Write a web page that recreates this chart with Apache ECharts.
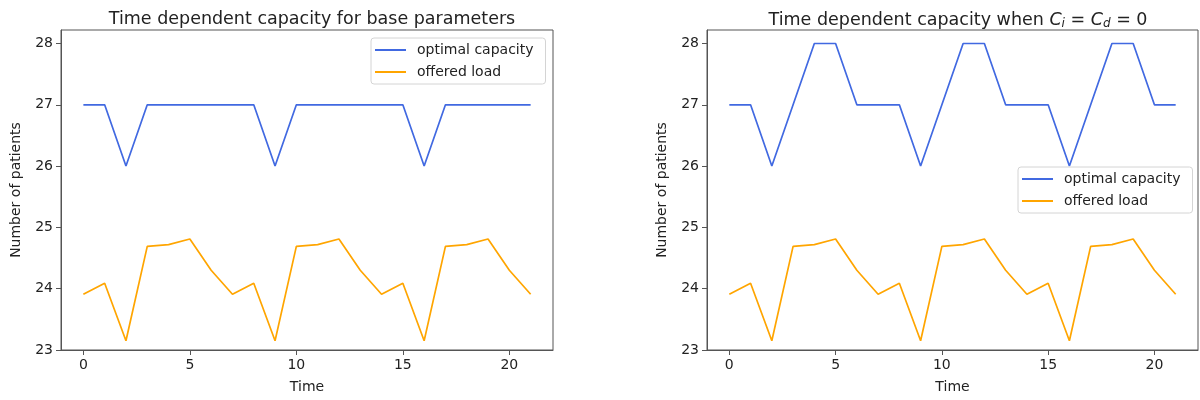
<!DOCTYPE html>
<html>
<head>
<meta charset="utf-8">
<script src="https://cdn.jsdelivr.net/npm/echarts@6/dist/echarts.min.js"></script>
<style>
  html, body { margin: 0; padding: 0; background: #fff; }
  #main { width: 1200px; height: 400px; }
</style>
</head>
<body>
<div id="main"></div>
<script>
  // basic data
  var time = [0, 1, 2, 3, 4, 5, 6, 7, 8, 9, 10, 11, 12, 13, 14, 15, 16, 17, 18, 19, 20, 21];
  var capacityBase = [27, 27, 26, 27, 27, 27, 27, 27, 27, 26, 27, 27, 27, 27, 27, 27, 26, 27, 27, 27, 27, 27];
  var capacityZero = [27, 27, 26, 27, 28, 28, 27, 27, 27, 26, 27, 28, 28, 27, 27, 27, 26, 27, 28, 28, 27, 27];
  var offeredLoad = [23.91, 24.09, 23.15, 24.69, 24.72, 24.81, 24.30, 23.91, 24.09, 23.15, 24.69,
                     24.72, 24.81, 24.30, 23.91, 24.09, 23.15, 24.69, 24.72, 24.81, 24.30, 23.91];
  var xTicks = [0, 5, 10, 15, 20];
  var yTicks = [23, 24, 25, 26, 27, 28];

  var FONT = 'DejaVu Sans';
  var TEXT = '#222';
  var SPINE = '#555';

  function pairs(vals) {
    return time.map(function (t, i) { return [t, vals[i]]; });
  }

  function xAxis(idx) {
    return {
      type: 'value', gridIndex: idx, min: -1.05, max: 22.05,
      name: 'Time', nameLocation: 'middle', nameGap: 30,
      nameTextStyle: { fontFamily: FONT, fontSize: 14, color: TEXT },
      axisLine: { show: true, onZero: false, lineStyle: { color: SPINE, width: 1 } },
      axisTick: { show: true, length: 5, customValues: xTicks, lineStyle: { color: SPINE } },
      axisLabel: { customValues: xTicks, fontFamily: FONT, fontSize: 14, color: TEXT, margin: 8 },
      splitLine: { show: false }
    };
  }

  function yAxis(idx) {
    return {
      type: 'value', gridIndex: idx, min: 23, max: 28.22,
      name: 'Number of patients', nameLocation: 'middle', nameGap: 38,
      nameTextStyle: { fontFamily: FONT, fontSize: 14, color: TEXT },
      axisLine: { show: true, onZero: false, lineStyle: { color: SPINE, width: 1 } },
      axisTick: { show: true, length: 5, customValues: yTicks, lineStyle: { color: SPINE } },
      axisLabel: { customValues: yTicks, fontFamily: FONT, fontSize: 14, color: TEXT, margin: 8 },
      splitLine: { show: false }
    };
  }

  function line(name, idx, vals, color) {
    return {
      name: name, type: 'line', xAxisIndex: idx, yAxisIndex: idx,
      data: pairs(vals), showSymbol: false, symbol: 'none', animation: false,
      itemStyle: { color: color },
      lineStyle: { color: color, width: 1.7 }
    };
  }

  function legend(left, top) {
    return {
      left: left, top: top, orient: 'vertical', selectedMode: false,
      data: ['optimal capacity', 'offered load'],
      icon: 'rect', itemWidth: 31, itemHeight: 2, itemGap: 8,
      padding: [5, 12, 5, 4],
      backgroundColor: 'rgba(255,255,255,0.85)',
      borderColor: '#d4d4d4', borderWidth: 1, borderRadius: 3,
      textStyle: { fontFamily: FONT, fontSize: 14, color: TEXT, padding: [0, 0, 0, 6] }
    };
  }

  var myChart = echarts.init(document.getElementById('main'));
  var option = {
    animation: false,
    title: [
      {
        text: 'Time dependent capacity for base parameters',
        left: 307, top: 5, textAlign: 'center',
        textStyle: { fontFamily: FONT, fontSize: 17.5, fontWeight: 'normal', color: TEXT }
      },
      {
        text: '{n|Time dependent capacity when }{it|C}{sub|i}{n| = }{it|C}{sub|d}{n| = 0}',
        left: 953, top: 5, textAlign: 'center',
        textStyle: {
          fontFamily: FONT, fontSize: 17.5, fontWeight: 'normal', color: TEXT,
          rich: {
            n: { fontFamily: FONT, fontSize: 17.5, color: TEXT, lineHeight: 20 },
            it: { fontFamily: FONT, fontSize: 17.5, fontStyle: 'italic', color: TEXT, lineHeight: 20 },
            sub: { fontFamily: FONT, fontSize: 12, fontStyle: 'italic', color: TEXT,
                   verticalAlign: 'bottom', lineHeight: 14, padding: [8, 0, 0, 0] }
          }
        }
      }
    ],
    legend: [legend(371, 38), legend(1018, 167)],
    grid: [
      { left: 61, top: 30, width: 492, height: 320, show: true, borderColor: SPINE, borderWidth: 1, backgroundColor: 'transparent' },
      { left: 707, top: 30, width: 491, height: 320, show: true, borderColor: SPINE, borderWidth: 1, backgroundColor: 'transparent' }
    ],
    xAxis: [xAxis(0), xAxis(1)],
    yAxis: [yAxis(0), yAxis(1)],
    series: [
      line('optimal capacity', 0, capacityBase, '#4169e1'),
      line('offered load', 0, offeredLoad, '#ffa500'),
      line('optimal capacity', 1, capacityZero, '#4169e1'),
      line('offered load', 1, offeredLoad, '#ffa500')
    ]
  };
  myChart.setOption(option);
</script>
</body>
</html>
